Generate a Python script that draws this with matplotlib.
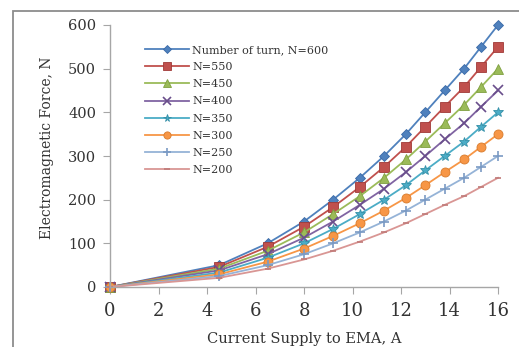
import matplotlib.pyplot as plt
from matplotlib.patches import Rectangle

# current supply (A)
current = [0, 4.5, 6.5, 8, 9.2, 10.3, 11.3, 12.2, 13.0, 13.8, 14.6, 15.3, 16]

# electromagnetic force (N)
f600 = [0, 50, 100, 150, 200, 250, 300, 350, 400, 450, 500, 550, 600]
f550 = [0, 46, 92, 138, 183, 229, 275, 321, 367, 413, 458, 504, 550]
f450 = [0, 42, 83, 125, 167, 208, 250, 292, 333, 375, 417, 458, 500]
f400 = [0, 38, 75, 113, 150, 188, 225, 263, 300, 338, 375, 413, 450]
f350 = [0, 33, 67, 100, 133, 167, 200, 233, 267, 300, 333, 367, 400]
f300 = [0, 29, 58, 88, 117, 146, 175, 204, 233, 263, 292, 321, 350]
f250 = [0, 25, 50, 75, 100, 125, 150, 175, 200, 225, 250, 275, 300]
f200 = [0, 21, 42, 63, 83, 104, 125, 146, 167, 188, 208, 229, 250]

labels = ['Number of turn, N=600', 'N=550', 'N=450', 'N=400',
          'N=350', 'N=300', 'N=250', 'N=200']
series = [f600, f550, f450, f400, f350, f300, f250, f200]

colors = ['#4F81BD', '#C0504D', '#9BBB59', '#8064A2',
          '#4BACC6', '#F79646', '#95B3D7', '#D99694']
edges = ['#3A6AA8', '#A03A38', '#7FA040', '#6A4E8C',
         '#3590A8', '#D87B2C', '#7A9AC4', '#C07A78']
markers = ['D', 's', '^', 'x', '*', 'o', '+', '_']
msizes = [5, 6.5, 6.5, 7, 7, 6.5, 7, 5]

fig = plt.figure(figsize=(5.19, 3.47), dpi=100)
ax = fig.add_axes([110/519, 1 - 287/347, (498 - 110)/519, (287 - 25)/347])

for y, lab, c, ec, m, ms in zip(series, labels, colors, edges, markers, msizes):
    ax.plot(current, y, color=c, lw=1.3, marker=m, ms=ms, mfc=c, mec=ec,
            mew=1.2 if m in ('x', '+', '_') else 0.6, label=lab, clip_on=False)

ax.set_xlim(0, 16)
ax.set_ylim(0, 600)
ax.set_xticks(range(0, 17, 2))
ax.set_yticks(range(0, 601, 100))

for s in ['top', 'right']:
    ax.spines[s].set_visible(False)
for s in ['left', 'bottom']:
    ax.spines[s].set_color('#A6A6A6')
    ax.spines[s].set_linewidth(1.0)

ax.tick_params(axis='y', direction='out', length=5, color='#A6A6A6',
               labelsize=10.5, labelcolor='#333333', pad=5)
ax.tick_params(axis='x', direction='out', length=5, color='#A6A6A6',
               labelsize=13, labelcolor='#333333', pad=6)
for t in ax.get_xticklabels() + ax.get_yticklabels():
    t.set_family('DejaVu Serif')

fig.text(47/519, 1 - 148/347, 'Electromagnetic Force, N', rotation=90,
         ha='center', va='center', fontsize=10, family='DejaVu Serif',
         color='#333333')
fig.text(304/519, 1 - 332/347, 'Current Supply to EMA, A', ha='center',
         va='top', fontsize=10.5, family='DejaVu Serif', color='#333333')

leg = ax.legend(loc='upper left', bbox_to_anchor=(0.08, 0.94), frameon=False,
                prop={'family': 'DejaVu Serif', 'size': 8},
                handlelength=3.9, labelspacing=0.64, handletextpad=0.3,
                borderaxespad=0, markerscale=0.8)
for t in leg.get_texts():
    t.set_color('#333333')

# outer chart border
fig.patches.append(Rectangle((13/519, -0.1), 1.2, 1 - 11/347 + 0.1,
                             transform=fig.transFigure, fill=False,
                             edgecolor='#8C8C8C', lw=1.3))

fig.savefig('out.png', dpi=100)
